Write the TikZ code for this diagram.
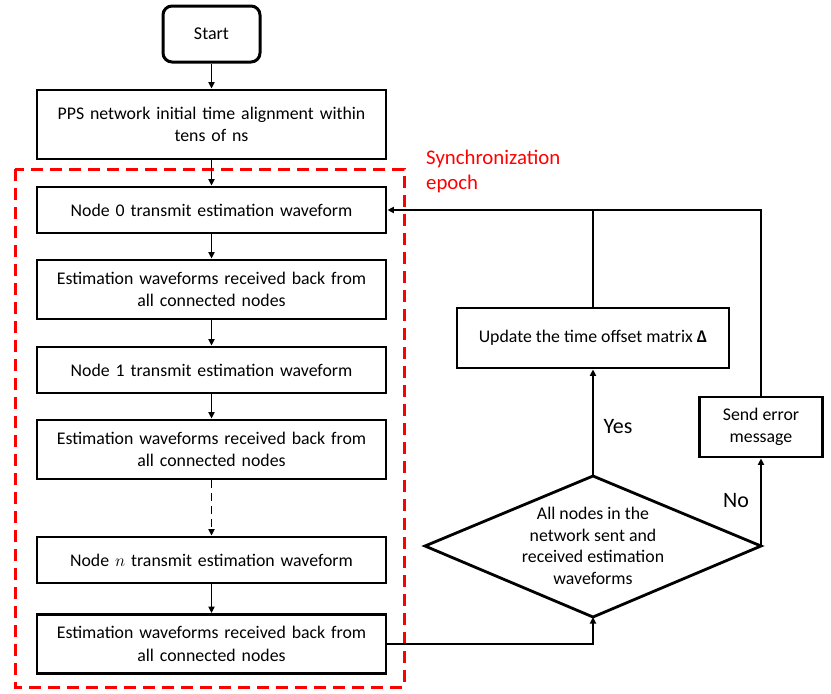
\documentclass[tikz,border=0pt]{standalone}
\usepackage{fontspec}
\setmainfont{Carlito}
\usetikzlibrary{arrows.meta}
\begin{document}
\begin{tikzpicture}[x=1pt,y=-1pt,
  box/.style={draw,line width=2.8pt,minimum width=349pt,align=center,inner sep=2pt,text width=340pt,font=\fontsize{17.8}{22.5}\selectfont},
  onebox/.style={box,minimum height=46pt},
  twobox/.style={box,minimum height=59pt},
  arr/.style={line width=1.8pt,-{Triangle[length=6.5pt,width=6pt]}},
  conn/.style={line width=1.8pt},
  lbl/.style={font=\fontsize{22}{26}\selectfont}
]
\useasboundingbox (0,0) rectangle (831,694);
\node[draw,line width=3pt,rounded corners=9pt,minimum width=97pt,minimum height=56pt,font=\fontsize{18}{22}\selectfont] (start) at (211.5,34) {Start};
\node[twobox,minimum height=69pt] (pps) at (211.5,124.5) {PPS network initial time alignment within\\tens of ns};
\node[onebox] (n0) at (211.5,210) {Node 0 transmit estimation waveform};
\node[twobox] (r1) at (211.5,289.5) {Estimation waveforms received back from\\all connected nodes};
\node[onebox] (n1) at (211.5,370) {Node 1 transmit estimation waveform};
\node[twobox] (r2) at (211.5,449.5) {Estimation waveforms received back from\\all connected nodes};
\node[onebox] (nn) at (211.5,560) {Node $n$ transmit estimation waveform};
\node[twobox] (r3) at (211.5,644) {Estimation waveforms received back from\\all connected nodes};

\draw[red,line width=3pt,dash pattern=on 12pt off 7pt] (15,169) rectangle (404,687);
\node[red,anchor=north west,align=left,inner sep=0pt,font=\fontsize{20.8}{25}\selectfont] (epoch) at (426,150) {Synchronization\\epoch};

\node[draw,line width=2.8pt,minimum width=272pt,minimum height=60pt,font=\fontsize{17.8}{22}\selectfont] (upd) at (593,338) {Update the time offset matrix {\bfseries Δ}};
\node[draw,line width=2.8pt,minimum width=123pt,minimum height=60pt,align=center,font=\fontsize{17.8}{22.5}\selectfont] (err) at (761,427) {Send error\\message};

\coordinate (dt) at (593,476);
\coordinate (dr) at (761,546);
\coordinate (db) at (593,617);
\coordinate (dl) at (425,546);
\draw[line width=2.8pt,line join=miter] (dt) -- (dr) -- (db) -- (dl) -- cycle;
\node[align=center,font=\fontsize{17.8}{21.5}\selectfont] (dec) at (593,546) {All nodes in the\\network sent and\\received estimation\\waveforms};

\draw[arr] (start) -- (pps);
\draw[arr] (pps) -- (n0);
\draw[arr] (n0) -- (r1);
\draw[arr] (r1) -- (n1);
\draw[arr] (n1) -- (r2);
\draw[arr,dash pattern=on 8pt off 5pt] (r2) -- (nn);
\draw[arr] (nn) -- (r3);
\draw[arr] (r3.east) -| (db);
\draw[arr] (dt) -- (upd.south);
\draw[arr] (dr) -- (err.south);
\draw[conn] (upd.north) -- (upd.north |- n0.east);
\draw[arr] (err.north) |- (n0.east);
\node[lbl] (yes) at (618,427) {Yes};
\node[lbl] (no) at (736,501) {No};
\end{tikzpicture}
\end{document}
